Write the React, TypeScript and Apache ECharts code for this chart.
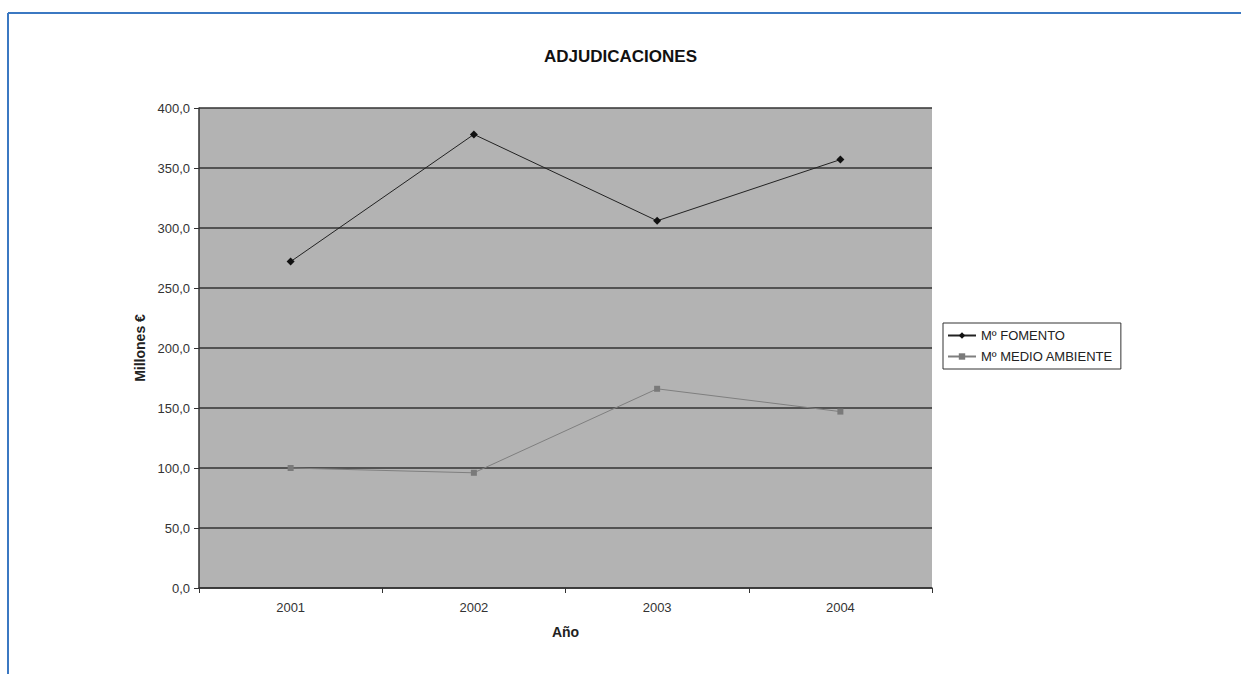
import React, { useEffect, useRef } from "react";
import * as echarts from "echarts";

const years = ["2001", "2002", "2003", "2004"];
const fomento = [272, 378, 306, 357];
const medioAmbiente = [100, 96, 166, 147];
const seriesNames = ["Mº FOMENTO", "Mº MEDIO AMBIENTE"];

export default function App() {
  const ref = useRef<HTMLDivElement>(null);
  useEffect(() => {
    document.body.style.margin = "0";
    const chart = echarts.init(ref.current!, null, { renderer: "svg" });
    const font = "'Liberation Sans', Arial, sans-serif";
    chart.setOption({
      animation: false,
      backgroundColor: "#ffffff",
      textStyle: { fontFamily: font },
      title: {
        text: "ADJUDICACIONES",
        left: "center",
        top: 43,
        textStyle: { fontSize: 17, fontWeight: "bold", color: "#111", fontFamily: font },
      },
      graphic: [
        { type: "line", shape: { x1: 8, y1: 13, x2: 1241, y2: 13 }, style: { stroke: "#3b78c2", lineWidth: 2 } },
        { type: "line", shape: { x1: 8, y1: 13, x2: 8, y2: 674 }, style: { stroke: "#3b78c2", lineWidth: 2 } },
      ],
      legend: {
        orient: "vertical",
        left: 943,
        top: 323,
        width: 179,
        borderColor: "#333",
        borderWidth: 1,
        padding: [6, 8, 6, 4],
        itemGap: 8,
        itemWidth: 28,
        itemHeight: 8,
        textStyle: { fontSize: 13, color: "#222", fontFamily: font },
        data: seriesNames,
      },
      grid: { left: 199, top: 108, width: 733, height: 480, containLabel: false },
      xAxis: {
        type: "category",
        data: years,
        boundaryGap: true,
        name: "Año",
        nameLocation: "middle",
        nameGap: 37,
        nameTextStyle: { fontSize: 14, fontWeight: "bold", color: "#222" },
        axisLine: { lineStyle: { color: "#333", width: 1.5 } },
        axisTick: { show: true, alignWithLabel: false, length: 5, lineStyle: { color: "#333" } },
        axisLabel: { fontSize: 13, color: "#333", margin: 13 },
      },
      yAxis: {
        type: "value",
        min: 0,
        max: 400,
        interval: 50,
        name: "Millones €",
        nameLocation: "middle",
        nameGap: 52,
        nameTextStyle: { fontSize: 14, fontWeight: "bold", color: "#222" },
        axisLine: { show: true, lineStyle: { color: "#333", width: 1.5 } },
        axisTick: { show: true, length: 5, lineStyle: { color: "#333" } },
        axisLabel: {
          fontSize: 13,
          color: "#333",
          margin: 9,
          formatter: (v: number) => v.toFixed(1).replace(".", ","),
        },
        splitLine: { show: true, lineStyle: { color: "#333", width: 1.5 } },
        splitArea: { show: true, areaStyle: { color: ["#b3b3b3", "#b3b3b3"] } },
      },
      series: [
        {
          name: seriesNames[0],
          type: "line",
          data: fomento,
          symbol: "diamond",
          symbolSize: 8,
          lineStyle: { color: "#222", width: 1 },
          itemStyle: { color: "#111" },
        },
        {
          name: seriesNames[1],
          type: "line",
          data: medioAmbiente,
          symbol: "rect",
          symbolSize: 6,
          lineStyle: { color: "#7f7f7f", width: 1 },
          itemStyle: { color: "#7a7a7a" },
        },
      ],
    });
    return () => chart.dispose();
  }, []);
  return (
    <div
      ref={ref}
      style={{ position: "absolute", left: 0, top: 0, width: 1241, height: 674 }}
    />
  );
}
